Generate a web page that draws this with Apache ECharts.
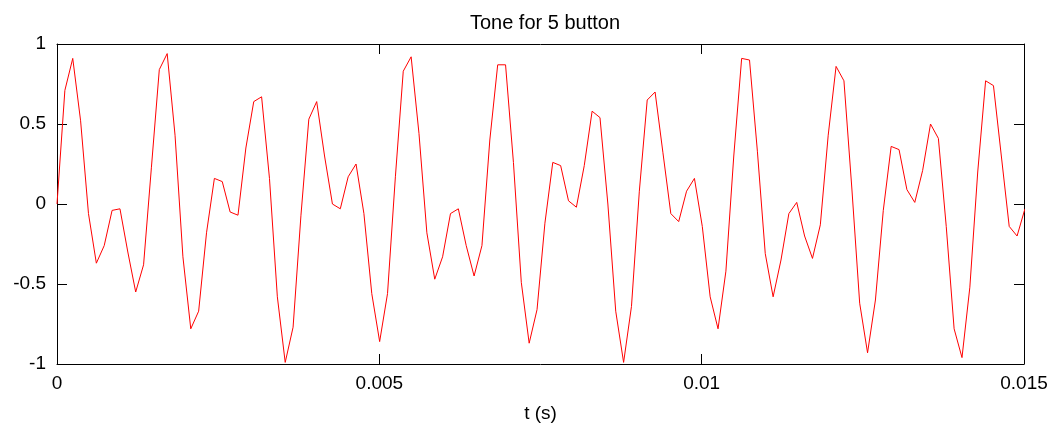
<!DOCTYPE html>
<html>
<head>
<meta charset="utf-8">
<title>Tone for 5 button</title>
<script src="https://cdn.jsdelivr.net/npm/echarts@6/dist/echarts.min.js"></script>
<style>
  html, body { margin: 0; padding: 0; background: #fff; }
  #chart { width: 1062px; height: 436px; }
</style>
</head>
<body>
<div id="chart"></div>
<script>
// ========== 数据 ==========
const sampleRate = 8192;          // samples per second
const xTicks = [0, 0.005, 0.01, 0.015];
const yTicks = [-1, -0.5, 0, 0.5, 1];
// one value per sample
const tone = [
  0.00, 0.71, 0.91, 0.52, -0.06, -0.37, -0.26, -0.04, -0.03, -0.30,
  -0.55, -0.38, 0.23, 0.84, 0.94, 0.43, -0.33, -0.78, -0.67, -0.18,
  0.16, 0.14, -0.05, -0.07, 0.35, 0.64, 0.67, 0.16, -0.58, -0.99,
  -0.77, -0.07, 0.53, 0.64, 0.30, 0.00, -0.03, 0.17, 0.25, -0.06,
  -0.56, -0.86, -0.56, 0.17, 0.83, 0.92, 0.44, -0.18, -0.47, -0.33,
  -0.06, -0.03, -0.26, -0.45, -0.26, 0.40, 0.87, 0.87, 0.26, -0.49,
  -0.87, -0.66, -0.12, 0.26, 0.24, 0.02, -0.02, 0.24, 0.58, 0.54,
  0.00, -0.67, -0.99, -0.64, 0.08, 0.65, 0.70, 0.32, -0.06, -0.11,
  0.08, 0.16, -0.14, -0.58, -0.78, -0.42, 0.30, 0.91, 0.90, 0.33,
  -0.31, -0.58, -0.35, -0.06, 0.01, -0.20, -0.34, -0.13, 0.43, 0.86,
  0.77, 0.10, -0.62, -0.93, -0.60, -0.04, 0.36, 0.34, 0.09, 0.01,
  0.21, 0.50, 0.41, -0.14, -0.78, -0.96, -0.52, 0.20, 0.77, 0.74,
  0.30, -0.14, -0.20, -0.03
];

// ========== 图表 ==========
const chart = echarts.init(document.getElementById('chart'), null, { renderer: 'canvas' });
const font = 'Liberation Sans, Arial, sans-serif';
const axisLine = { show: true, onZero: false, lineStyle: { color: '#000', width: 1 } };
const tick = { show: true, inside: true, length: 10, lineStyle: { color: '#000' } };

const points = tone.map((v, i) => [i / sampleRate, v]);

chart.setOption({
  animation: false,
  backgroundColor: '#fff',
  title: {
    text: 'Tone for 5 button',
    left: 540, top: 8, textAlign: 'center',
    textStyle: { fontFamily: font, fontSize: 20, fontWeight: 'normal', color: '#000' }
  },
  grid: { left: 57, right: 38, top: 44, bottom: 72 },
  xAxis: [{
    type: 'value',
    min: xTicks[0], max: xTicks[xTicks.length - 1], interval: 0.005,
    name: 't (s)', nameLocation: 'middle', nameGap: 40,
    nameTextStyle: { fontFamily: font, fontSize: 19, color: '#000' },
    axisLine, axisTick: tick, splitLine: { show: false },
    axisLabel: { margin: 10, fontFamily: font, fontSize: 19, color: '#000',
                 formatter: v => String(+v.toFixed(3)) }
  }, {
    type: 'value', position: 'top',
    min: xTicks[0], max: xTicks[xTicks.length - 1], interval: 0.005,
    axisLine, axisTick: tick, axisLabel: { show: false }, splitLine: { show: false }
  }],
  yAxis: [{
    type: 'value',
    min: yTicks[0], max: yTicks[yTicks.length - 1], interval: 0.5,
    axisLine, axisTick: tick, splitLine: { show: false },
    axisLabel: { margin: 11, fontFamily: font, fontSize: 19, color: '#000' }
  }, {
    type: 'value', position: 'right',
    min: yTicks[0], max: yTicks[yTicks.length - 1], interval: 0.5,
    axisLine, axisTick: tick, axisLabel: { show: false }, splitLine: { show: false }
  }],
  series: [{
    type: 'line',
    data: points,
    showSymbol: false,
    clip: true,
    lineStyle: { color: '#ff0000', width: 1 },
    itemStyle: { color: '#ff0000' }
  }]
});
</script>
</body>
</html>
